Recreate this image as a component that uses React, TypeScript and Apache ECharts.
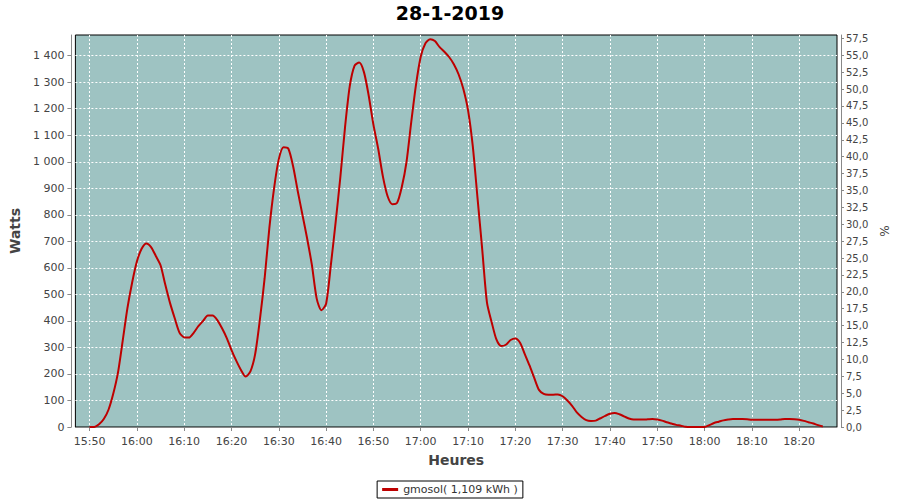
import React, { useEffect, useRef } from "react";
import * as echarts from "echarts";

const chartTitle = "28-1-2019";
const seriesName = "gmosol( 1,109 kWh )";
const xAxisName = "Heures";
const leftAxisName = "Watts";
const rightAxisName = "%";

// one sample per minute, starting at 15:50
const startTime = "15:50";
const watts = [
  0, 0, 10, 30, 65, 125, 205, 325, 448, 545,
  624, 672, 692, 678, 645, 610, 537, 468, 410, 356,
  338, 337, 355, 380, 400, 420, 420, 403, 372, 335,
  290, 250, 215, 190, 210, 275, 405, 560, 750, 900,
  1010, 1055, 1050, 985, 890, 800, 710, 610, 485, 440,
  465, 610, 770, 940, 1130, 1285, 1362, 1374, 1338, 1250,
  1140, 1050, 945, 870, 840, 845, 905, 1000, 1150, 1290,
  1396, 1447, 1462, 1455, 1432, 1415, 1395, 1368, 1330, 1275,
  1195, 1060, 865, 670, 470, 395, 330, 305, 310, 328,
  334, 318, 275, 232, 185, 140, 125, 122, 122, 123,
  116, 100, 80, 55, 38, 26, 23, 24, 33, 42,
  50, 53, 48, 40, 32, 28, 28, 28, 29, 30,
  28, 24, 18, 13, 8, 5, 1, 0, 0, 0,
  0, 7, 15, 20, 25, 28, 30, 30, 30, 29,
  27, 27, 27, 27, 27, 27, 28, 30, 30, 29,
  27, 23, 18, 13, 7, 2,
];

const xTickLabels = [
  "15:50", "16:00", "16:10", "16:20", "16:30", "16:40", "16:50", "17:00",
  "17:10", "17:20", "17:30", "17:40", "17:50", "18:00", "18:10", "18:20",
];
const wattTicks = [0, 100, 200, 300, 400, 500, 600, 700, 800, 900, 1000, 1100, 1200, 1300, 1400];
const pctTicks = [
  0, 2.5, 5, 7.5, 10, 12.5, 15, 17.5, 20, 22.5, 25, 27.5, 30, 32.5, 35, 37.5,
  40, 42.5, 45, 47.5, 50, 52.5, 55, 57.5,
];
const xRange = ["15:47", "18:28"];
const wattMax = 1478;
const pctMax = 58;

const toMin = (s: string) => {
  const [h, m] = s.split(":").map(Number);
  return h * 60 + m;
};
const fmtTime = (v: number) => {
  const h = Math.floor(v / 60);
  const m = Math.round(v - h * 60);
  return `${h}:${m < 10 ? "0" + m : m}`;
};
const fmtWatt = (v: number) => {
  const s = String(Math.round(v));
  return s.length > 3 ? s.slice(0, s.length - 3) + " " + s.slice(-3) : s;
};

const FONT = "DejaVu Sans";

export default function App() {
  const ref = useRef<HTMLDivElement>(null);
  useEffect(() => {
    if (!ref.current) return;
    const chart = echarts.init(ref.current, null, { renderer: "svg" });
    const t0 = toMin(startTime);
    const data = watts.map((w, i) => [t0 + i, w]);
    const xTicks = xTickLabels.map(toMin);
    const axisLineStyle = { color: "#888888", width: 1 };
    chart.setOption({
      animation: false,
      backgroundColor: "#ffffff",
      title: {
        text: chartTitle,
        left: "center",
        top: 0,
        padding: [3, 5],
        textStyle: { fontFamily: FONT, fontWeight: "bold", fontSize: 19, color: "#000000" },
      },
      legend: {
        bottom: 2,
        left: "center",
        data: [{ name: seriesName, icon: "rect" }],
        itemWidth: 16,
        itemHeight: 3,
        itemGap: 4,
        borderColor: "#000000",
        borderWidth: 1,
        padding: [3, 5],
        textStyle: { fontFamily: FONT, fontSize: 11, color: "#333333" },
      },
      grid: {
        left: 75,
        right: 63,
        top: 35,
        bottom: 73,
        show: true,
        backgroundColor: "#9EC3C2",
        borderColor: "#000000",
        borderWidth: 1,
      },
      xAxis: {
        type: "value",
        min: toMin(xRange[0]),
        max: toMin(xRange[1]),
        offset: 4,
        name: xAxisName,
        nameLocation: "middle",
        nameGap: 22,
        nameTextStyle: { fontFamily: FONT, fontWeight: "bold", fontSize: 14, color: "#444444" },
        axisLine: { show: true, lineStyle: axisLineStyle },
        axisTick: { show: true, length: 4, lineStyle: axisLineStyle, customValues: xTicks },
        axisLabel: {
          customValues: xTicks,
          formatter: (v: number) => fmtTime(v),
          fontFamily: FONT,
          fontSize: 11,
          color: "#444444",
          margin: 5,
        },
        splitLine: { show: true, lineStyle: { color: "#ffffff", type: [2, 2], width: 1 } },
      },
      yAxis: [
        {
          type: "value",
          position: "left",
          min: 0,
          max: wattMax,
          offset: 4,
          name: leftAxisName,
          nameLocation: "middle",
          nameGap: 40,
          nameTextStyle: { fontFamily: FONT, fontWeight: "bold", fontSize: 14, color: "#444444" },
          axisLine: { show: true, lineStyle: axisLineStyle },
          axisTick: { show: true, length: 4, lineStyle: axisLineStyle, customValues: wattTicks },
          axisLabel: {
            customValues: wattTicks,
            formatter: (v: number) => fmtWatt(v),
            fontFamily: FONT,
            fontSize: 11,
            color: "#444444",
            margin: 7,
          },
          splitLine: { show: true, lineStyle: { color: "#ffffff", type: [2, 2], width: 1 } },
        },
        {
          type: "value",
          position: "right",
          min: 0,
          max: pctMax,
          offset: 4,
          name: rightAxisName,
          nameLocation: "middle",
          nameGap: 32,
          nameTextStyle: { fontFamily: FONT, fontSize: 12, color: "#444444" },
          axisLine: { show: true, lineStyle: axisLineStyle },
          axisTick: { show: true, length: 3, lineStyle: axisLineStyle, customValues: pctTicks },
          axisLabel: {
            customValues: pctTicks,
            formatter: (v: number) => v.toFixed(1).replace(".", ","),
            fontFamily: FONT,
            fontSize: 10,
            color: "#444444",
            margin: 5,
          },
          splitLine: { show: false },
        },
      ],
      series: [
        {
          type: "line",
          name: seriesName,
          yAxisIndex: 0,
          data,
          showSymbol: false,
          smooth: 0.25,
          lineStyle: { color: "#BE0000", width: 2 },
          itemStyle: { color: "#BE0000" },
        },
      ],
    });
    return () => chart.dispose();
  }, []);
  return (
    <div
      ref={ref}
      style={{ position: "fixed", left: 0, top: 0, width: 900, height: 500 }}
    />
  );
}
